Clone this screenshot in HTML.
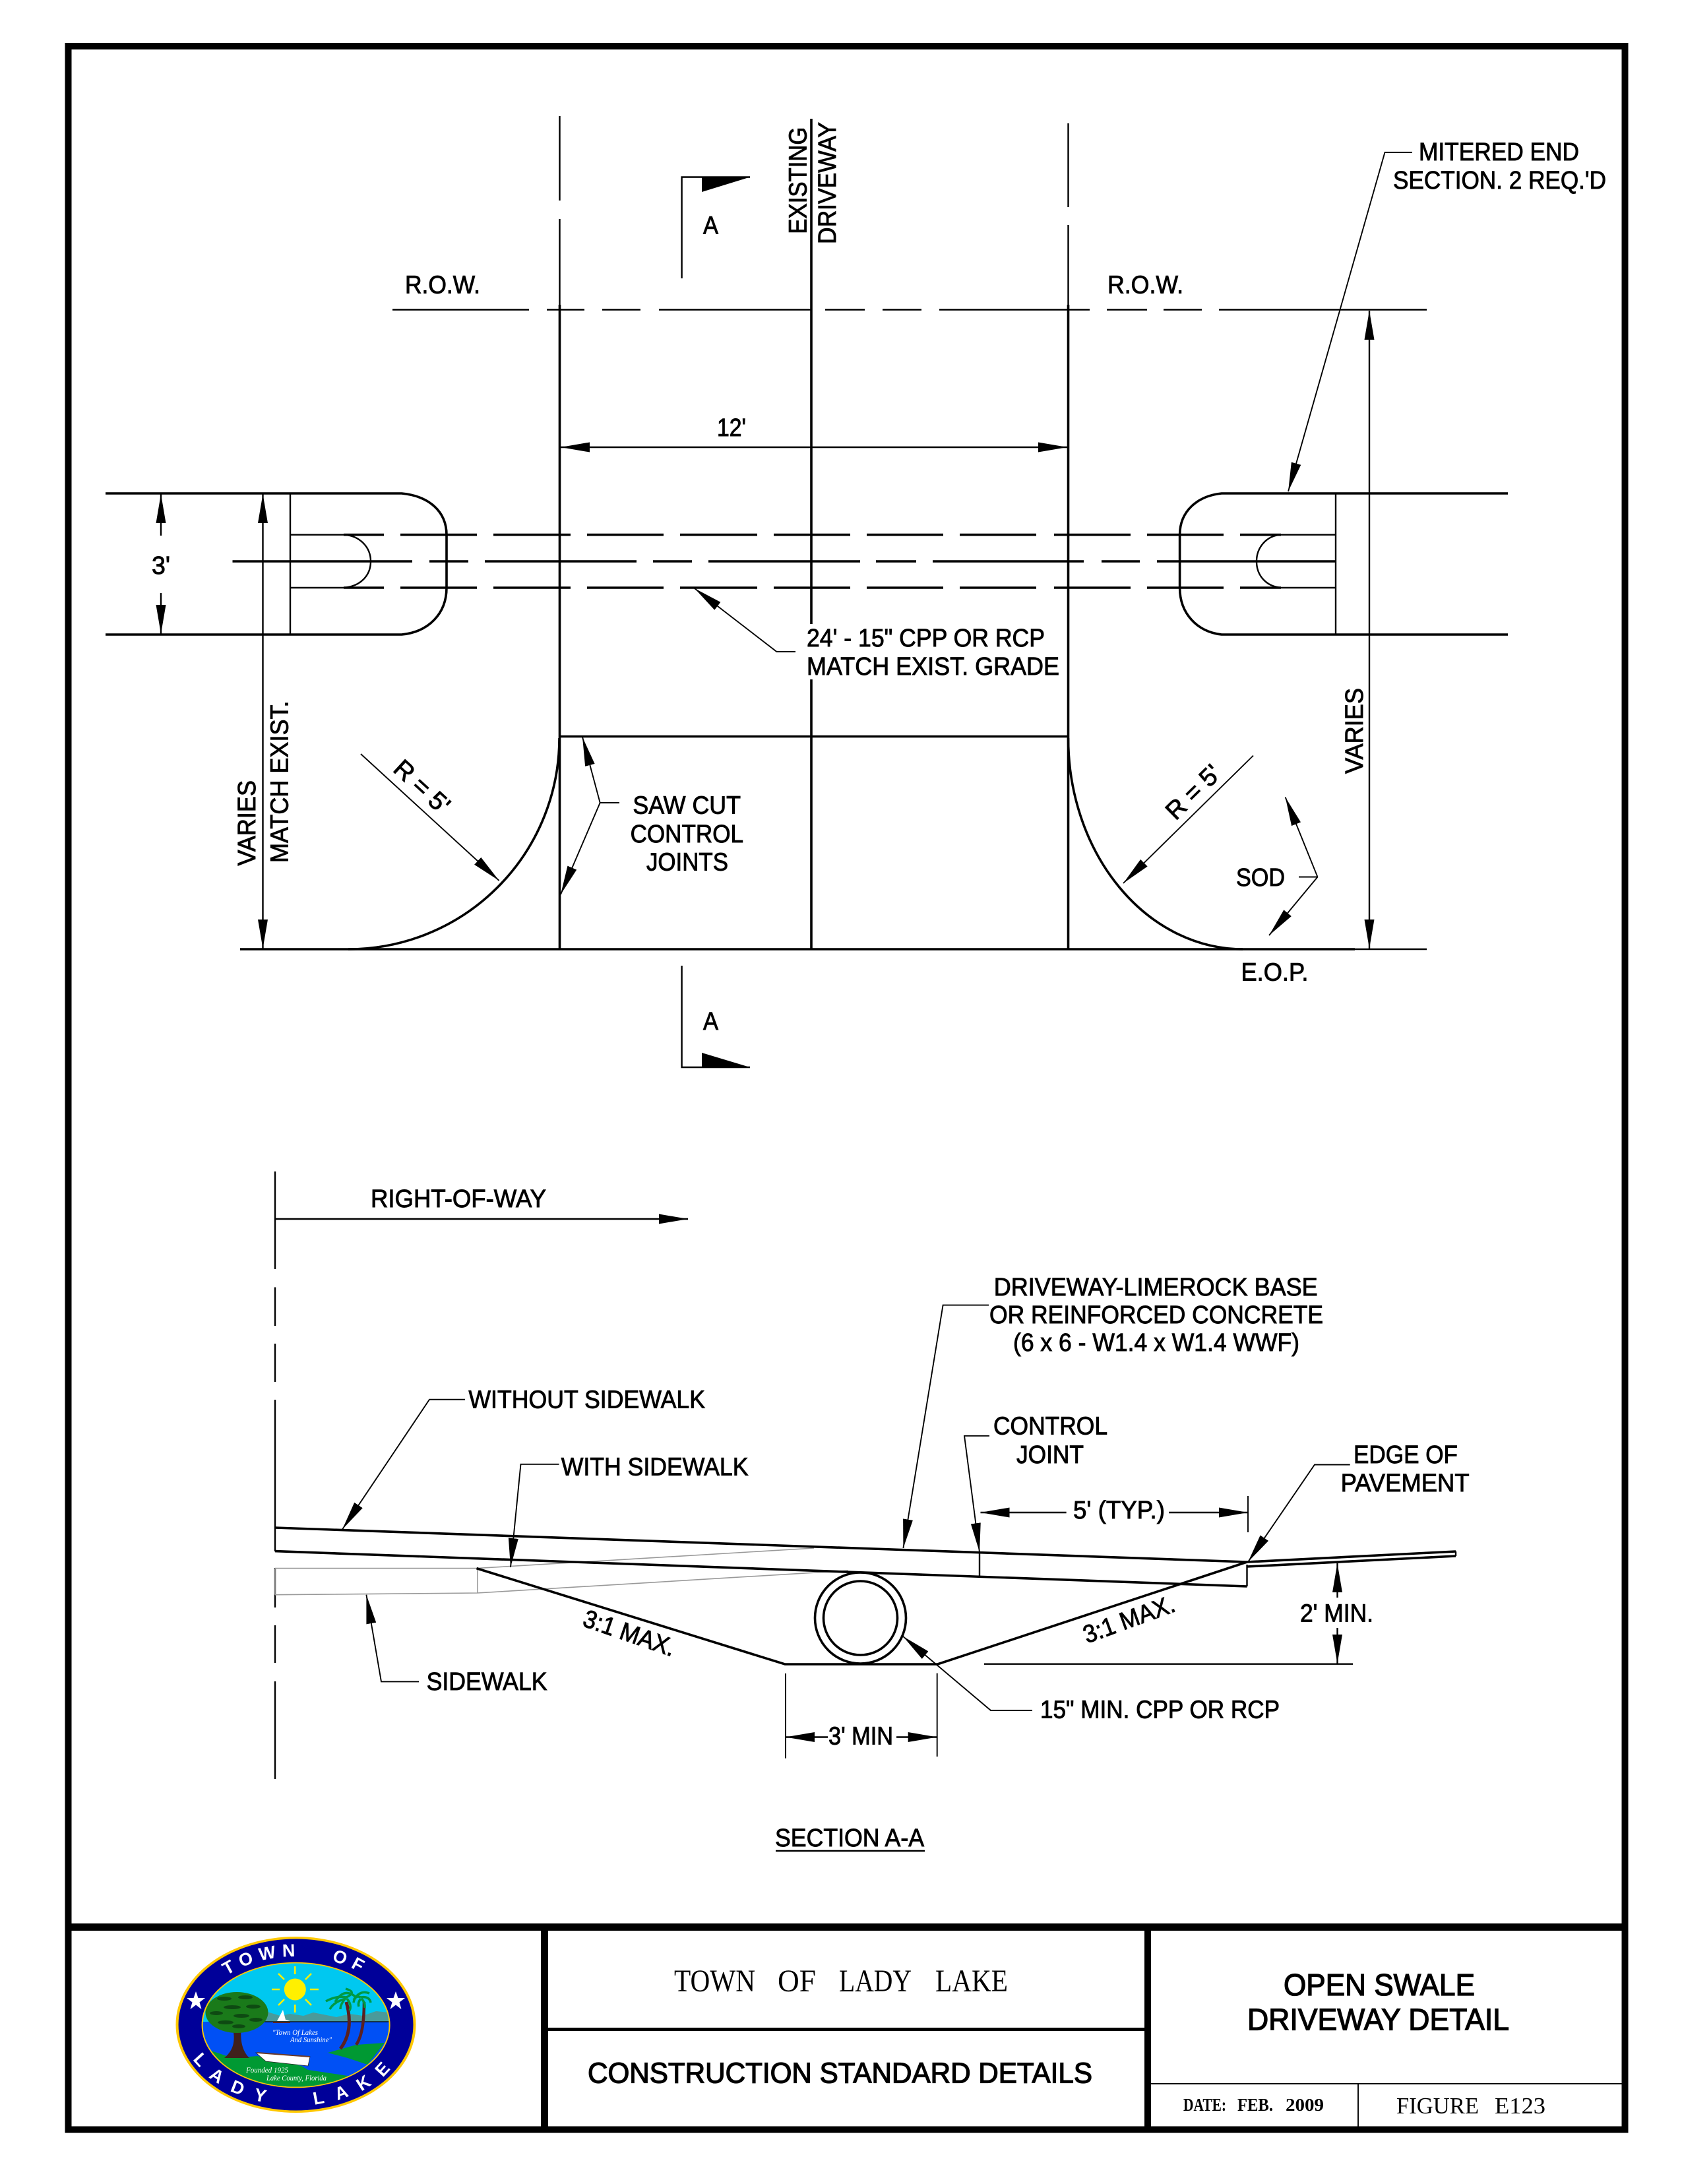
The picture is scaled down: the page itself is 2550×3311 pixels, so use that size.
<!DOCTYPE html>
<html lang="en">
<head>
<meta charset="utf-8">
<title>Open Swale Driveway Detail</title>
<style>
html,body{margin:0;padding:0;background:#fff}
svg{display:block}
.t{font-family:"Liberation Sans",Arial,sans-serif;font-size:38px;fill:#000;stroke:#000;stroke-width:.9}
.s{font-family:"Liberation Serif","Times New Roman",serif;fill:#000}
.k{stroke:#000;stroke-width:3.6;fill:none}
.m{stroke:#000;stroke-width:2.4;fill:none}
.f{stroke:#000;stroke-width:1.9;fill:none}
.g{stroke:#999;stroke-width:1.6;fill:none}
.a{marker-end:url(#ah)}
.b{marker-start:url(#as);marker-end:url(#ah)}
.lg{font-family:"Liberation Sans",Arial,sans-serif;font-weight:bold;fill:#fff}
.sm{font-family:"Liberation Serif",serif;font-style:italic;font-size:11.5px;fill:#fff}
</style>
</head>
<body>
<svg xmlns="http://www.w3.org/2000/svg" width="2550" height="3311" viewBox="0 0 2550 3311">
<defs>
<marker id="ah" markerUnits="userSpaceOnUse" markerWidth="46" markerHeight="18" viewBox="0 -9 46 18" refX="44" refY="0" orient="auto"><polygon points="0,-7.5 44,0 0,7.5" fill="#000"/></marker>
<marker id="as" markerUnits="userSpaceOnUse" markerWidth="46" markerHeight="18" viewBox="0 -9 46 18" refX="44" refY="0" orient="auto-start-reverse"><polygon points="0,-7.5 44,0 0,7.5" fill="#000"/></marker>
<clipPath id="lc"><ellipse cx="448.6" cy="3070" rx="141" ry="93.5"/></clipPath>
<path id="lt" d="M297.5 3070 A151 104 0 0 1 599.5 3070" fill="none"/>
<path id="lb" d="M276.5 3070 A172 122 0 0 0 620.5 3070" fill="none"/>
</defs>
<rect width="2550" height="3311" fill="#fff"/>

<!-- frame -->
<rect x="103.5" y="70" width="2360" height="3158.5" fill="none" stroke="#000" stroke-width="10"/>
<rect x="100" y="2916" width="2366" height="11" fill="#000"/>
<rect x="820" y="2916" width="11" height="316" fill="#000"/>
<rect x="1735" y="2916" width="10" height="316" fill="#000"/>
<rect x="831" y="3074" width="904" height="5" fill="#000"/>
<path class="f" d="M1745 3159 H2460 M2059 3159 V3228"/>

<!-- plan: verticals -->
<path class="m" d="M848.5 176 V304 M848.5 332 V462 M1619.5 187 V314 M1619.5 341 V462"/>
<path class="k" d="M848.5 462 V1439 M1619.5 462 V1439"/>
<path class="k" d="M1230 180 V946 M1230 1030 V1439"/>
<!-- ROW -->
<path class="m" d="M595 469.5 H802 M829 469.5 H886 M913 469.5 H971 M999 469.5 H1229 M1251 469.5 H1311 M1338 469.5 H1397 M1424 469.5 H1652 M1678 469.5 H1739 M1764 469.5 H1822 M1848 469.5 H2163"/>
<!-- 12' -->
<path class="m b" d="M850 678 H1618"/>

<!-- left mitered end -->
<path class="k" d="M160 748 H609 C650 752 677 775 677 811 V891 C677 930 650 958 609 962 H160"/>
<path class="m" d="M440 748 V962"/>
<path class="m" d="M440 810.7 H521 C546 812 562 830 562 851 C562 873 546 889 521 891 H440"/>
<!-- right mitered end -->
<path class="k" d="M2286 748 H1852 C1815 752 1788.6 775 1788.6 811 V891 C1788.6 930 1815 958 1852 962 H2286"/>
<path class="m" d="M2025 748 V962"/>
<path class="m" d="M2025 810.7 H1942 C1920 812 1905 830 1905 851 C1905 873 1920 889 1942 891 H2025"/>
<!-- dashed pipe -->
<path class="k" d="M521 810.7 H582 M607 810.7 H723 M748 810.7 H865 M890 810.7 H1006 M1031 810.7 H1148 M1173 810.7 H1289 M1314 810.7 H1430 M1455 810.7 H1571 M1598 810.7 H1714 M1739 810.7 H1855 M1880 810.7 H1942"/>
<path class="k" d="M521 891 H582 M607 891 H723 M748 891 H865 M890 891 H1006 M1031 891 H1148 M1173 891 H1289 M1314 891 H1430 M1455 891 H1571 M1598 891 H1714 M1739 891 H1855 M1880 891 H1942"/>
<path class="k" d="M352.5 851 H625 M651 851 H710 M735 851 H965 M990 851 H1049 M1074 851 H1304 M1328 851 H1389 M1414 851 H1643 M1670 851 H1728 M1754 851 H2025"/>

<!-- driveway -->
<path class="k" d="M848.5 1116.5 H1619.5"/>
<path class="k" d="M364 1439 H2054"/>
<path class="m" d="M2054 1439 H2163"/>
<path class="k" d="M848 1119 A320 320 0 0 1 528 1439"/>
<path class="k" d="M1619.5 1119 A265 320 0 0 0 1884 1439"/>

<!-- dims -->
<path class="m a" d="M244 812 V749"/>
<path class="m a" d="M244 899 V961"/>
<path class="m b" d="M398.5 749 V1438"/>
<path class="m b" d="M2076 471 V1438"/>
<polyline class="f a" points="1206,988 1177.5,988 1053,892"/>
<polyline class="f a" points="2141,231 2099.5,231 1953,745"/>
<path class="f a" d="M547 1143 L756.6 1335"/>
<path class="f a" d="M1900 1145.5 L1703 1339"/>
<path class="f" d="M939 1217 H909.7"/>
<path class="f a" d="M909.7 1217 L883 1117.4"/>
<path class="f a" d="M909.7 1217 L850 1356"/>
<path class="f" d="M1969 1329.5 H1997.5"/>
<path class="f a" d="M1997.5 1329.5 L1948.6 1208.5"/>
<path class="f a" d="M1997.5 1329.5 L1924 1418"/>

<!-- section flags -->
<path class="m" d="M1033.6 422 V268.5 H1137"/>
<polygon points="1064,268.5 1137,268.5 1064,291" fill="#000"/>
<path class="m" d="M1033.6 1464 V1618 H1137"/>
<polygon points="1064,1596 1137,1618 1064,1618" fill="#000"/>

<!-- plan text -->
<text class="t" x="614" y="444.6" textLength="114" lengthAdjust="spacingAndGlyphs">R.O.W.</text>
<text class="t" x="1679" y="444.6" textLength="115" lengthAdjust="spacingAndGlyphs">R.O.W.</text>
<text class="t" transform="translate(1222.7,354.6) rotate(-90)" textLength="162" lengthAdjust="spacingAndGlyphs">EXISTING</text>
<text class="t" transform="translate(1267,370) rotate(-90)" textLength="185" lengthAdjust="spacingAndGlyphs">DRIVEWAY</text>
<text class="t" x="1066" y="354.6" textLength="23" lengthAdjust="spacingAndGlyphs">A</text>
<text class="t" x="1066" y="1561" textLength="23" lengthAdjust="spacingAndGlyphs">A</text>
<text class="t" x="1087" y="661" textLength="44" lengthAdjust="spacingAndGlyphs">12'</text>
<text class="t" x="230" y="870" textLength="28" lengthAdjust="spacingAndGlyphs">3'</text>
<text class="t" x="2151" y="243" textLength="243" lengthAdjust="spacingAndGlyphs">MITERED END</text>
<text class="t" x="2112" y="286" textLength="323" lengthAdjust="spacingAndGlyphs">SECTION. 2 REQ.'D</text>
<text class="t" x="1223" y="980" textLength="361" lengthAdjust="spacingAndGlyphs">24' - 15" CPP OR RCP</text>
<text class="t" x="1223" y="1023" textLength="383" lengthAdjust="spacingAndGlyphs">MATCH EXIST. GRADE</text>
<text class="t" transform="translate(387,1312.5) rotate(-90)" textLength="129.5" lengthAdjust="spacingAndGlyphs">VARIES</text>
<text class="t" transform="translate(436.7,1308) rotate(-90)" textLength="245.5" lengthAdjust="spacingAndGlyphs">MATCH EXIST.</text>
<text class="t" transform="translate(2066,1173) rotate(-90)" textLength="130" lengthAdjust="spacingAndGlyphs">VARIES</text>
<text class="t" transform="translate(631,1202) rotate(42.5)" text-anchor="middle" textLength="100" lengthAdjust="spacingAndGlyphs">R = 5'</text>
<text class="t" transform="translate(1818,1210) rotate(-44.5)" text-anchor="middle" textLength="100" lengthAdjust="spacingAndGlyphs">R = 5'</text>
<text class="t" x="959.4" y="1233.5" textLength="163.6" lengthAdjust="spacingAndGlyphs">SAW CUT</text>
<text class="t" x="955.6" y="1277" textLength="171.4" lengthAdjust="spacingAndGlyphs">CONTROL</text>
<text class="t" x="980" y="1319.6" textLength="124" lengthAdjust="spacingAndGlyphs">JOINTS</text>
<text class="t" x="1874" y="1343" textLength="74" lengthAdjust="spacingAndGlyphs">SOD</text>
<text class="t" x="1881.5" y="1486.6" textLength="102" lengthAdjust="spacingAndGlyphs">E.O.P.</text>

<!-- section -->
<path class="m" d="M417 1776 V1924 M417 1951.5 V2010 M417 2037 V2095 M417 2122 V2352 M417 2377 V2437 M417 2464 V2521 M417 2549 V2697"/>
<path class="m a" d="M417 1848 H1043"/>
<text class="t" x="562" y="1830" textLength="266" lengthAdjust="spacingAndGlyphs">RIGHT-OF-WAY</text>

<!-- sidewalk gray -->
<path class="g" d="M417 2377.6 H722.5 L1234 2347 M417 2417.7 L724 2415 L1286 2381 M724 2377.6 V2415 M417 2377.6 V2417.7"/>

<!-- pavement -->
<path class="k" d="M417 2316 L1890.5 2368"/>
<path class="k" d="M417 2351.6 L1890.5 2405"/>
<path class="m" d="M1890.5 2405 V2372"/>
<path class="k" d="M1890.5 2368 L2207 2352"/>
<path class="k" d="M1890.5 2375 L2207 2359"/>
<path class="m" d="M2207 2352 V2359"/>
<path class="k" d="M722.5 2377.6 L1190 2523 H1421.4 L1890.5 2368"/>
<circle cx="1304.5" cy="2453" r="69" class="k"/>
<circle cx="1304.5" cy="2453" r="56" class="k"/>

<!-- section leaders -->
<polyline class="f a" points="705,2121.7 651,2121.7 519,2318.5"/>
<polyline class="f a" points="847.5,2219.8 789.5,2219.8 774,2376"/>
<polyline class="f a" points="635,2549.4 578,2549.4 555.4,2417.7"/>
<polyline class="f a" points="1499,1978.6 1429.6,1978.6 1369.4,2347"/>
<polyline class="f a" points="1500,2176.8 1462,2176.8 1485,2353"/>
<path class="m" d="M1485 2353 V2389"/>
<polyline class="f a" points="2046.7,2220.5 1993,2220.5 1892,2368"/>
<polyline class="f a" points="1565,2593 1502,2593 1369,2480.8"/>
<path class="f" d="M1191 2537 V2665.6 M1420.7 2536.6 V2663 M1892 2268 V2323"/>
<path class="m a" d="M1255 2633.5 H1191"/>
<path class="m a" d="M1359 2633.5 H1420.7"/>
<path class="m a" d="M1616.6 2293 H1486.5"/>
<path class="m a" d="M1772 2293 H1892"/>
<path class="m a" d="M2027.5 2422 V2370"/>
<path class="m a" d="M2027.5 2468 V2522"/>
<path class="m" d="M1492 2522.7 H2051"/>

<!-- section text -->
<text class="t" x="710.4" y="2134.7" textLength="358.6" lengthAdjust="spacingAndGlyphs">WITHOUT SIDEWALK</text>
<text class="t" x="850.7" y="2236.6" textLength="283.8" lengthAdjust="spacingAndGlyphs">WITH SIDEWALK</text>
<text class="t" x="646.6" y="2562" textLength="183" lengthAdjust="spacingAndGlyphs">SIDEWALK</text>
<text class="t" x="1506.7" y="1964" textLength="491" lengthAdjust="spacingAndGlyphs">DRIVEWAY-LIMEROCK BASE</text>
<text class="t" x="1500" y="2006" textLength="506" lengthAdjust="spacingAndGlyphs">OR REINFORCED CONCRETE</text>
<text class="t" x="1536" y="2048" textLength="434" lengthAdjust="spacingAndGlyphs">(6 x 6 - W1.4 x W1.4 WWF)</text>
<text class="t" x="1506" y="2174.5" textLength="173" lengthAdjust="spacingAndGlyphs">CONTROL</text>
<text class="t" x="1541" y="2218" textLength="102" lengthAdjust="spacingAndGlyphs">JOINT</text>
<text class="t" x="1627" y="2302" textLength="139" lengthAdjust="spacingAndGlyphs">5' (TYP.)</text>
<text class="t" x="2052" y="2218" textLength="158" lengthAdjust="spacingAndGlyphs">EDGE OF</text>
<text class="t" x="2032.6" y="2261" textLength="195" lengthAdjust="spacingAndGlyphs">PAVEMENT</text>
<text class="t" x="1971" y="2458.5" textLength="111" lengthAdjust="spacingAndGlyphs">2' MIN.</text>
<text class="t" x="1256" y="2644.6" textLength="98" lengthAdjust="spacingAndGlyphs">3' MIN</text>
<text class="t" x="1577" y="2604.4" textLength="363" lengthAdjust="spacingAndGlyphs">15" MIN. CPP OR RCP</text>
<text class="t" transform="translate(950,2488) rotate(19)" text-anchor="middle" textLength="145" lengthAdjust="spacingAndGlyphs">3:1 MAX.</text>
<text class="t" transform="translate(1716,2467) rotate(-20)" text-anchor="middle" textLength="145" lengthAdjust="spacingAndGlyphs">3:1 MAX.</text>
<text class="t" x="1175" y="2799" textLength="226" lengthAdjust="spacingAndGlyphs">SECTION A-A</text>
<path class="m" d="M1176 2806 H1402"/>

<!-- title block text -->
<text class="s" x="1022" y="3019" font-size="48" textLength="123" lengthAdjust="spacingAndGlyphs">TOWN</text>
<text class="s" x="1179" y="3019" font-size="48" textLength="58" lengthAdjust="spacingAndGlyphs">OF</text>
<text class="s" x="1272" y="3019" font-size="48" textLength="110" lengthAdjust="spacingAndGlyphs">LADY</text>
<text class="s" x="1418" y="3019" font-size="48" textLength="110" lengthAdjust="spacingAndGlyphs">LAKE</text>
<text class="t" x="891" y="3157.7" style="font-size:44px;stroke-width:1.3" textLength="765" lengthAdjust="spacingAndGlyphs">CONSTRUCTION STANDARD DETAILS</text>
<text class="t" x="1946" y="3025" style="font-size:46px;stroke-width:1.3" textLength="290" lengthAdjust="spacingAndGlyphs">OPEN SWALE</text>
<text class="t" x="1891" y="3077.7" style="font-size:46px;stroke-width:1.3" textLength="397" lengthAdjust="spacingAndGlyphs">DRIVEWAY DETAIL</text>
<text class="s" x="1794" y="3200" font-size="27" font-weight="bold" textLength="65" lengthAdjust="spacingAndGlyphs">DATE:</text>
<text class="s" x="1876" y="3200" font-size="27" font-weight="bold" textLength="54" lengthAdjust="spacingAndGlyphs">FEB.</text>
<text class="s" x="1949" y="3200" font-size="27" font-weight="bold" textLength="58" lengthAdjust="spacingAndGlyphs">2009</text>
<text class="s" x="2117" y="3204" font-size="35" textLength="125" lengthAdjust="spacingAndGlyphs">FIGURE</text>
<text class="s" x="2266" y="3204" font-size="35" textLength="77" lengthAdjust="spacingAndGlyphs">E123</text>

<!-- logo -->
<ellipse cx="448.5" cy="3069.5" rx="182" ry="133.5" fill="#FFC800"/>
<ellipse cx="448.5" cy="3069.5" rx="178" ry="130" fill="#000099"/>
<ellipse cx="448.6" cy="3070" rx="143" ry="95.3" fill="#FFC800"/>
<g clip-path="url(#lc)">
<rect x="300" y="2970" width="300" height="200" fill="#00C8F0"/>
<rect x="300" y="3065" width="300" height="105" fill="#0050F5"/>
<path d="M400 3065 L405 3050 L425 3056 L440 3053 L460 3056 L475 3051 L490 3054 L510 3058 L530 3053 L550 3056 L570 3049 L600 3052 V3065 Z" fill="#4A9A9A"/>
<path class="m" d="M400 3065 H600" style="stroke-width:1.2"/>
<path d="M300 3105 L323 3110 L353 3120 L390 3117 L457 3132 L467 3138 L527 3147 L507 3175 L300 3175 Z" fill="#009933"/>
<path d="M497 3112 L540 3100 L583 3097 L557 3130 L527 3120 Z" fill="#009933"/>
<path d="M353 3075 C357 3095 354 3108 340 3120 L378 3120 C366 3108 364 3090 366 3075 Z" fill="#40201C"/>
<ellipse cx="359" cy="3051" rx="47.5" ry="31" fill="#1A7A1A"/>
<g fill="#0E4A12">
<ellipse cx="340" cy="3030" rx="11" ry="3"/><ellipse cx="372" cy="3028" rx="11" ry="3"/><ellipse cx="352" cy="3043" rx="13" ry="3"/><ellipse cx="384" cy="3042" rx="11" ry="3"/><ellipse cx="328" cy="3052" rx="10" ry="3"/><ellipse cx="366" cy="3056" rx="12" ry="3"/><ellipse cx="342" cy="3066" rx="12" ry="3"/><ellipse cx="388" cy="3062" rx="10" ry="3"/><ellipse cx="362" cy="3072" rx="10" ry="3"/>
</g>
<path d="M525 3035 C532 3060 532 3085 516 3106" stroke="#5A2020" stroke-width="5" fill="none"/>
<path d="M552 3035 C552 3060 550 3085 540 3100" stroke="#5A2020" stroke-width="4.5" fill="none"/>
<g stroke="#009944" stroke-width="3.5" fill="none">
<path d="M508 3035 Q522 3012 540 3028 M525 3028 Q510 3025 494 3034 M525 3028 Q542 3020 524 3015 M524 3030 Q506 3035 500 3046 M526 3030 Q534 3040 530 3048 M525 3028 Q516 3038 516 3046"/>
<path d="M536 3032 Q546 3016 560 3022 M547 3028 Q538 3024 536 3036 M547 3028 Q560 3026 562 3036 M547 3030 Q542 3036 544 3042 M548 3030 Q554 3036 553 3044"/>
</g>
<polygon points="388,3112 470,3118 467,3132 403,3125" fill="#fff" stroke="#222" stroke-width=".8"/>
<path d="M390 3112 L470 3118" stroke="#6a3a2a" stroke-width="2"/>
<polygon points="420,3064 429,3047 433,3062 440,3064" fill="#fff"/>
<path d="M414 3066 H440" stroke="#5a2020" stroke-width="2"/>
<circle cx="447.3" cy="3016" r="16.5" fill="#FFF000"/>
<g stroke="#FFF000" stroke-width="2.5">
<path d="M447.3 2981 V2993 M447.3 3039 V3051 M412 3016 H424 M470 3016 H483 M422 2992 L431 3001 M463 3031 L472 3040 M472 2992 L463 3001 M431 3031 L422 3040"/>
</g>
<text class="sm" x="413" y="3085" textLength="69" lengthAdjust="spacingAndGlyphs">"Town Of Lakes</text>
<text class="sm" x="440" y="3096" textLength="63" lengthAdjust="spacingAndGlyphs">And Sunshine"</text>
<text class="sm" x="373" y="3142" textLength="64" lengthAdjust="spacingAndGlyphs">Founded 1925</text>
<text class="sm" x="404" y="3154" textLength="91" lengthAdjust="spacingAndGlyphs">Lake County, Florida</text>
</g>
<text class="lg" font-size="27" letter-spacing="9" word-spacing="30"><textPath href="#lt" startOffset="50%" text-anchor="middle">TOWN OF</textPath></text>
<text class="lg" font-size="27" letter-spacing="19" word-spacing="30"><textPath href="#lb" startOffset="50%" text-anchor="middle">LADY LAKE</textPath></text>
<polygon points="297,3019 300.5,3029 311,3029 302.5,3035.5 305.5,3046 297,3039.5 288.5,3046 291.5,3035.5 283,3029 293.5,3029" fill="#fff"/>
<polygon points="600,3019 603.5,3029 614,3029 605.5,3035.5 608.5,3046 600,3039.5 591.5,3046 594.5,3035.5 586,3029 596.5,3029" fill="#fff"/>
</svg>
</body>
</html>
